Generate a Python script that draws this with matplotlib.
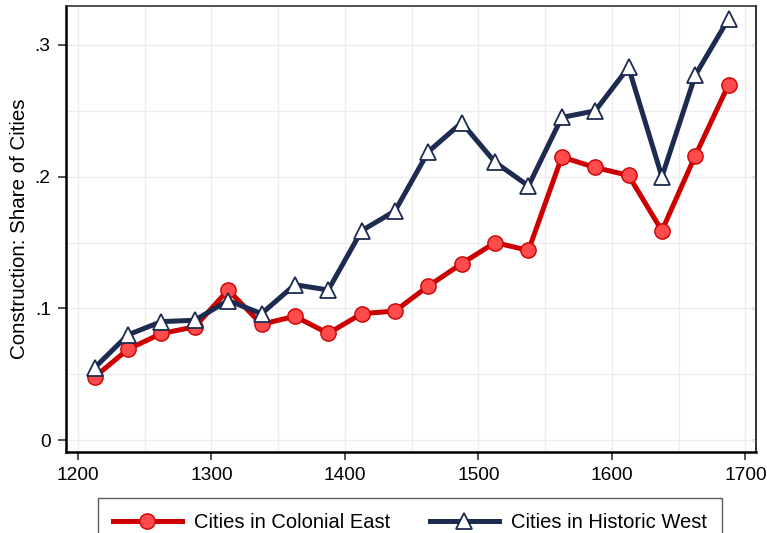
import matplotlib
matplotlib.use("Agg")
import matplotlib.pyplot as plt
from matplotlib.ticker import MultipleLocator

years = [1212.5, 1237.5, 1262.5, 1287.5, 1312.5, 1337.5, 1362.5, 1387.5, 1412.5, 1437.5,
         1462.5, 1487.5, 1512.5, 1537.5, 1562.5, 1587.5, 1612.5, 1637.5, 1662.5, 1687.5]
east = [0.048, 0.069, 0.081, 0.086, 0.114, 0.088, 0.094, 0.081, 0.096, 0.098,
        0.117, 0.134, 0.150, 0.144, 0.215, 0.207, 0.201, 0.159, 0.216, 0.270]
west = [0.055, 0.080, 0.090, 0.091, 0.106, 0.096, 0.118, 0.114, 0.159, 0.174,
        0.219, 0.241, 0.211, 0.193, 0.245, 0.250, 0.283, 0.200, 0.277, 0.320]
xticks = [1200, 1300, 1400, 1500, 1600, 1700]
yticks = [0, 0.1, 0.2, 0.3]
ytick_labels = ["0", ".1", ".2", ".3"]
label_east = "Cities in Colonial East"
label_west = "Cities in Historic West"
ylabel = "Construction: Share of Cities"

plt.rcParams['font.family'] = ['Liberation Sans', 'DejaVu Sans']

fig = plt.figure(figsize=(7.67, 5.33), dpi=100)
ax = fig.add_axes([66/767, 1-452/533, (756-66)/767, (452-6)/533])

red_line = "#cc0000"
red_face = "#ff4b4b"
navy = "#1c2b4f"

ax.plot(years, east, color=red_line, lw=3.6, marker='o', ms=11,
        mfc=red_face, mec=red_line, mew=1.0, label=label_east, zorder=3)
ax.plot(years, west, color=navy, lw=3.6, marker='^', ms=12,
        mfc='white', mec=navy, mew=1.3, label=label_west, zorder=4)

ax.set_xlim(1191, 1708)
ax.set_ylim(-0.009, 0.3296)
ax.set_xticks(xticks)
ax.set_yticks(yticks)
ax.set_yticklabels(ytick_labels)
ax.xaxis.set_minor_locator(MultipleLocator(50))
ax.yaxis.set_minor_locator(MultipleLocator(0.05))
ax.grid(True, which='both', color='#ececec', lw=1.0, zorder=0)
ax.set_axisbelow(True)

ax.tick_params(axis='both', which='major', labelsize=13.8, length=6, width=1.2,
               direction='out', color='#333333', pad=5)
ax.tick_params(axis='both', which='minor', length=0)

sec = ax.secondary_yaxis('right')
sec.set_yticks(yticks)
sec.tick_params(axis='y', direction='in', length=3, width=1.0, color='#333333',
                labelright=False)
sec.spines['right'].set_linewidth(1.2)
sec.spines['right'].set_color('#333333')

for s in ['left', 'bottom']:
    ax.spines[s].set_linewidth(1.8)
    ax.spines[s].set_color('black')
for s in ['top', 'right']:
    ax.spines[s].set_linewidth(1.2)
    ax.spines[s].set_color('#333333')

ax.set_ylabel(ylabel, fontsize=14.8, labelpad=4)

leg = ax.legend(loc='upper left', bbox_to_anchor=(98/767, 1-498/533),
                bbox_transform=fig.transFigure, ncol=2, fontsize=14.5,
                frameon=True, fancybox=False, handlelength=3.4,
                handletextpad=0.6, columnspacing=2.0, borderpad=0.75,
                borderaxespad=0)
leg.get_frame().set_edgecolor('#333333')
leg.get_frame().set_linewidth(1.0)

fig.savefig("out.png", dpi=100)
